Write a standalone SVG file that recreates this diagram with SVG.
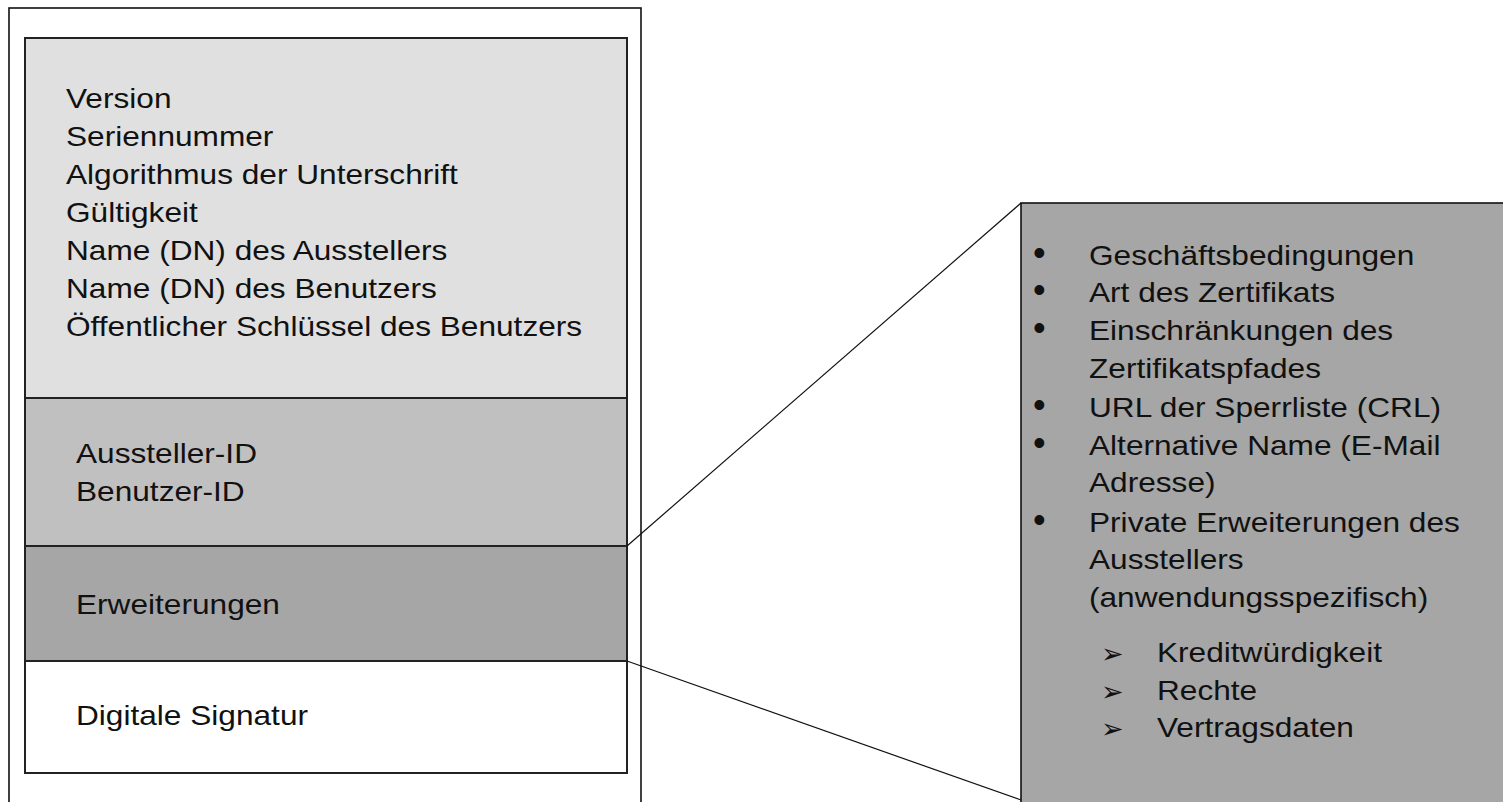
<svg xmlns="http://www.w3.org/2000/svg" width="1503" height="802" viewBox="0 0 1503 802">
<style>
.t{font-family:"Liberation Sans",Arial,sans-serif;font-size:28.5px;fill:#111}
.b{font-family:"Liberation Sans",Arial,sans-serif;font-size:36px;fill:#111}
.a{font-family:"DejaVu Sans",sans-serif;font-size:27px;fill:#111}
.box{stroke:#222;stroke-width:2}
.conn{stroke:#111;stroke-width:1.2;fill:none}
</style>
<rect width="1503" height="802" fill="#fff"/>
<g id="outer">
<rect x="9" y="8" width="632" height="810" fill="#fff" stroke="#111" stroke-width="1.6"/>
</g>
<g id="header">
<rect class="box" x="25" y="38" width="602" height="360" fill="#e0e0e0"/>
<g transform="translate(66,0) scale(1.11,1)">
<text class="t" x="0" y="108">Version</text>
<text class="t" x="0" y="146">Seriennummer</text>
<text class="t" x="0" y="184">Algorithmus der Unterschrift</text>
<text class="t" x="0" y="222">Gültigkeit</text>
<text class="t" x="0" y="260">Name (DN) des Ausstellers</text>
<text class="t" x="0" y="298">Name (DN) des Benutzers</text>
<text class="t" x="0" y="336">Öffentlicher Schlüssel des Benutzers</text>
</g>
</g>
<g id="ids">
<rect class="box" x="25" y="398" width="602" height="148" fill="#c0c0c0"/>
<g transform="translate(76,0) scale(1.11,1)">
<text class="t" x="0" y="463">Aussteller-ID</text>
<text class="t" x="0" y="501">Benutzer-ID</text>
</g>
</g>
<g id="extensions">
<rect class="box" x="25" y="546" width="602" height="115" fill="#a6a6a6"/>
<g transform="translate(76,0) scale(1.11,1)">
<text class="t" x="0" y="614">Erweiterungen</text>
</g>
</g>
<g id="signature">
<rect class="box" x="25" y="661" width="602" height="112" fill="#fff"/>
<g transform="translate(76,0) scale(1.11,1)">
<text class="t" x="0" y="725">Digitale Signatur</text>
</g>
</g>
<g id="connectors">
<line class="conn" x1="627" y1="546" x2="1021" y2="203"/>
<line class="conn" x1="627" y1="661" x2="1021" y2="800"/>
</g>
<g id="detail">
<rect x="1021" y="203" width="500" height="620" fill="#a6a6a6" stroke="#111" stroke-width="1.6"/>
<g>
<text class="b" x="1033" y="265">•</text>
<text class="b" x="1033" y="302">•</text>
<text class="b" x="1033" y="340">•</text>
<text class="b" x="1033" y="417">•</text>
<text class="b" x="1033" y="455">•</text>
<text class="b" x="1033" y="532">•</text>
</g>
<g transform="translate(1089,0) scale(1.11,1)">
<text class="t" x="0" y="265">Geschäftsbedingungen</text>
<text class="t" x="0" y="302">Art des Zertifikats</text>
<text class="t" x="0" y="340">Einschränkungen des</text>
<text class="t" x="0" y="378">Zertifikatspfades</text>
<text class="t" x="0" y="417">URL der Sperrliste (CRL)</text>
<text class="t" x="0" y="455">Alternative Name (E-Mail</text>
<text class="t" x="0" y="492">Adresse)</text>
<text class="t" x="0" y="532">Private Erweiterungen des</text>
<text class="t" x="0" y="569">Ausstellers</text>
<text class="t" x="0" y="607">(anwendungsspezifisch)</text>
</g>
<g>
<text class="a" x="1101" y="663">➢</text>
<text class="a" x="1101" y="701">➢</text>
<text class="a" x="1101" y="738">➢</text>
</g>
<g transform="translate(1157,0) scale(1.11,1)">
<text class="t" x="0" y="662">Kreditwürdigkeit</text>
<text class="t" x="0" y="700">Rechte</text>
<text class="t" x="0" y="737">Vertragsdaten</text>
</g>
</g>
</svg>
